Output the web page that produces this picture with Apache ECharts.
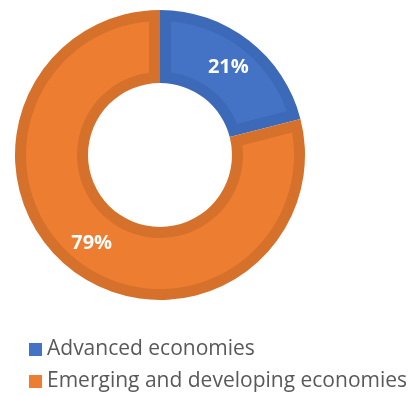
<!DOCTYPE html>
<html>
<head>
<meta charset="utf-8">
<script src="https://cdn.jsdelivr.net/npm/echarts@6/dist/echarts.min.js"></script>
<style>
  html, body { margin: 0; padding: 0; background: #ffffff; }
  #chart { width: 409px; height: 396px; }
</style>
</head>
<body>
<div id="chart"></div>
<script>
// Share of the total, by economy group (percent)
const categories = ['Advanced economies', 'Emerging and developing economies'];
const shares = [21, 79];
const fillColors = ['#4472C4', '#ED7D31'];
const edgeColors = ['#3C69B8', '#D6712C'];

// Ring geometry (px)
const CENTER = [160, 155];
const R_OUTER = 145;
const R_INNER = 72;
const EDGE = 11; // width of the darker rim drawn inside each slice

const total = shares.reduce((a, b) => a + b, 0);

// Point on the ring: angle measured clockwise from 12 o'clock
function polar(rho, theta) {
  return [CENTER[0] + rho * Math.sin(theta), CENTER[1] - rho * Math.cos(theta)];
}

// Inner (lighter) face of a slice, inset by EDGE on every side
function insetFace(startFrac, endFrac) {
  const t1 = startFrac * 2 * Math.PI;
  const t2 = endFrac * 2 * Math.PI;
  const ro = R_OUTER - EDGE;
  const ri = R_INNER + EDGE;
  const ao1 = t1 + Math.asin(EDGE / ro), ao2 = t2 - Math.asin(EDGE / ro);
  const ai1 = t1 + Math.asin(EDGE / ri), ai2 = t2 - Math.asin(EDGE / ri);
  const pts = [];
  const steps = 90;
  for (let k = 0; k <= steps; k++) pts.push(polar(ro, ao1 + (ao2 - ao1) * k / steps));
  for (let k = steps; k >= 0; k--) pts.push(polar(ri, ai1 + (ai2 - ai1) * k / steps));
  return pts;
}

const chart = echarts.init(document.getElementById('chart'));

const legendText = {
  fontFamily: 'Open Sans',
  fontSize: 21,
  lineHeight: 21,
  color: '#595959'
};

chart.setOption({
  animation: false,
  legend: categories.map((name, i) => ({
    orient: 'vertical',
    left: 29,
    top: 339 + i * 32,
    padding: 0,
    itemWidth: 13,
    itemHeight: 13,
    icon: 'rect',
    selectedMode: false,
    textStyle: legendText,
    data: [{ name: name, itemStyle: { color: fillColors[i] } }]
  })),
  series: [
    // Darker full ring: this forms the rim of each slice
    {
      type: 'pie',
      center: CENTER,
      radius: [R_INNER, R_OUTER],
      startAngle: 90,
      clockwise: true,
      silent: true,
      z: 2,
      label: { show: false },
      labelLine: { show: false },
      data: categories.map((name, i) => ({
        name: name,
        value: shares[i],
        itemStyle: { color: edgeColors[i] }
      }))
    },
    // Lighter face of each slice
    {
      type: 'custom',
      coordinateSystem: 'none',
      silent: true,
      z: 3,
      data: shares,
      renderItem: function (params, api) {
        const i = params.dataIndex;
        const before = shares.slice(0, i).reduce((a, b) => a + b, 0);
        const v = api.value(0);
        return {
          type: 'polygon',
          shape: { points: insetFace(before / total, (before + v) / total) },
          style: { fill: fillColors[i], stroke: null }
        };
      }
    },
    // Percentage labels
    {
      type: 'pie',
      center: CENTER,
      radius: [R_INNER, R_OUTER],
      startAngle: 90,
      clockwise: true,
      silent: true,
      z: 4,
      itemStyle: { color: 'rgba(0,0,0,0)' },
      label: {
        show: true,
        position: 'inside',
        formatter: '{c}%',
        color: '#ffffff',
        fontFamily: 'Open Sans',
        fontWeight: 'bold',
        fontSize: 20
      },
      labelLine: { show: false },
      data: categories.map((name, i) => ({ name: name, value: shares[i] }))
    }
  ]
});
</script>
</body>
</html>
